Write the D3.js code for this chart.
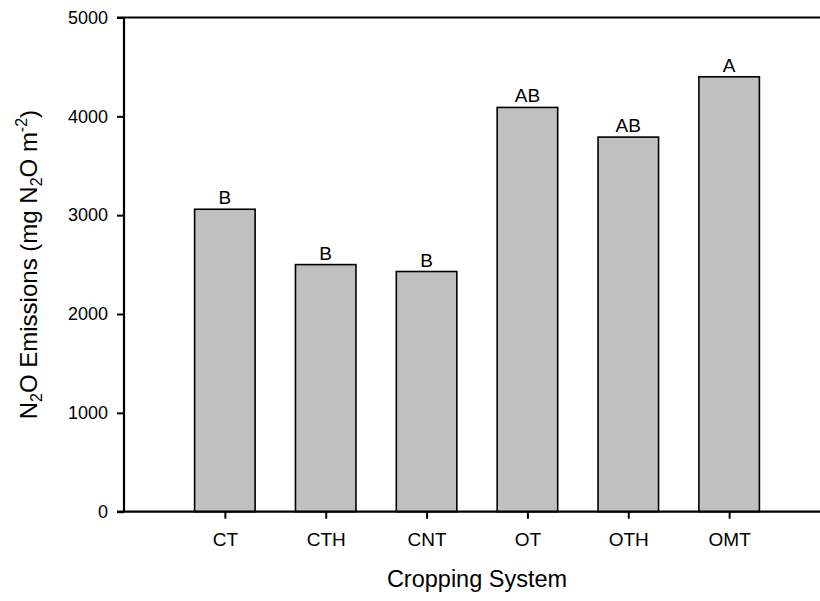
<!DOCTYPE html>
<html>
<head>
<meta charset="utf-8">
<script src="https://cdn.jsdelivr.net/npm/d3@7"></script>
<style>
  html, body { margin: 0; padding: 0; background: #fff; }
  svg text { font-family: "Liberation Sans", Arial, sans-serif; fill: #000; }
</style>
</head>
<body>
<svg id="chart" width="820" height="601"></svg>
<script>
// Cropping systems and their cumulative N2O emissions
const categories = ["CT", "CTH", "CNT", "OT", "OTH", "OMT"];
const emissions = [3060, 2500, 2430, 4090, 3790, 4400];
const groupLetters = ["B", "B", "B", "AB", "AB", "A"];
const yTicks = [0, 1000, 2000, 3000, 4000, 5000];

const svg = d3.select("#chart");
const plotLeft = 124, plotRight = 830, plotTop = 17.5, plotBottom = 511.7;

// Category slots: the frame runs from slot 0 to slot 7, bars sit at slots 1..6
const x = d3.scaleLinear().domain([0, categories.length + 1]).range([plotLeft, plotRight]);
const slot = x(1) - x(0);
const barW = slot * 0.6;
const y = d3.scaleLinear().domain([0, 5000]).range([plotBottom, plotTop]);

// Bars
svg.append("g").selectAll("rect")
  .data(categories)
  .join("rect")
  .attr("x", (d, i) => x(i + 1) - barW / 2)
  .attr("y", (d, i) => y(emissions[i]))
  .attr("width", barW)
  .attr("height", (d, i) => y(0) - y(emissions[i]))
  .attr("fill", "#c0c0c0")
  .attr("stroke", "#000")
  .attr("stroke-width", 1.6);

// Significance letters above bars
svg.append("g").selectAll("text")
  .data(groupLetters)
  .join("text")
  .attr("x", (d, i) => x(i + 1))
  .attr("y", (d, i) => y(emissions[i]) - 5)
  .attr("text-anchor", "middle")
  .attr("font-size", 19)
  .text(d => d);

// Y axis
const yAxis = svg.append("g")
  .attr("transform", `translate(${plotLeft},0)`)
  .call(d3.axisLeft(y).tickValues(yTicks).tickFormat(d3.format("d")).tickSize(7).tickPadding(9));
yAxis.selectAll("text").attr("font-size", 18).attr("font-family", "Liberation Sans, Arial, sans-serif");

// X axis
const xAxis = svg.append("g")
  .attr("transform", `translate(0,${plotBottom})`)
  .call(d3.axisBottom(x).tickValues(d3.range(1, categories.length + 1))
    .tickFormat(d => categories[d - 1]).tickSize(7).tickPadding(14));
xAxis.selectAll("text").attr("font-size", 19).attr("font-family", "Liberation Sans, Arial, sans-serif");

[yAxis, xAxis].forEach(g => {
  g.select(".domain").remove();
  g.selectAll(".tick line").attr("stroke", "#000").attr("stroke-width", 2);
});

// Frame lines: left, bottom, top
svg.append("line").attr("x1", plotLeft).attr("x2", plotLeft).attr("y1", plotTop).attr("y2", plotBottom)
  .attr("stroke", "#000").attr("stroke-width", 2.2);
svg.append("line").attr("x1", plotLeft - 7).attr("x2", plotRight).attr("y1", plotBottom).attr("y2", plotBottom)
  .attr("stroke", "#000").attr("stroke-width", 2.2);
svg.append("line").attr("x1", plotLeft - 7).attr("x2", plotRight).attr("y1", plotTop).attr("y2", plotTop)
  .attr("stroke", "#000").attr("stroke-width", 2.2);

// Axis titles
svg.append("text")
  .attr("x", (plotLeft + plotRight) / 2)
  .attr("y", 587)
  .attr("text-anchor", "middle")
  .attr("font-size", 23.5)
  .text("Cropping System");

const yTitle = svg.append("text")
  .attr("transform", `translate(37,${(plotTop + plotBottom) / 2}) rotate(-90)`)
  .attr("text-anchor", "middle")
  .attr("font-size", 24);
yTitle.append("tspan").text("N");
yTitle.append("tspan").attr("font-size", 16).attr("dy", 5).text("2");
yTitle.append("tspan").attr("dy", -5).text("O Emissions (mg N");
yTitle.append("tspan").attr("font-size", 16).attr("dy", 5).text("2");
yTitle.append("tspan").attr("dy", -5).text("O m");
yTitle.append("tspan").attr("font-size", 16).attr("dy", -10).text("-2");
yTitle.append("tspan").attr("dy", 10).text(")");
</script>
</body>
</html>
